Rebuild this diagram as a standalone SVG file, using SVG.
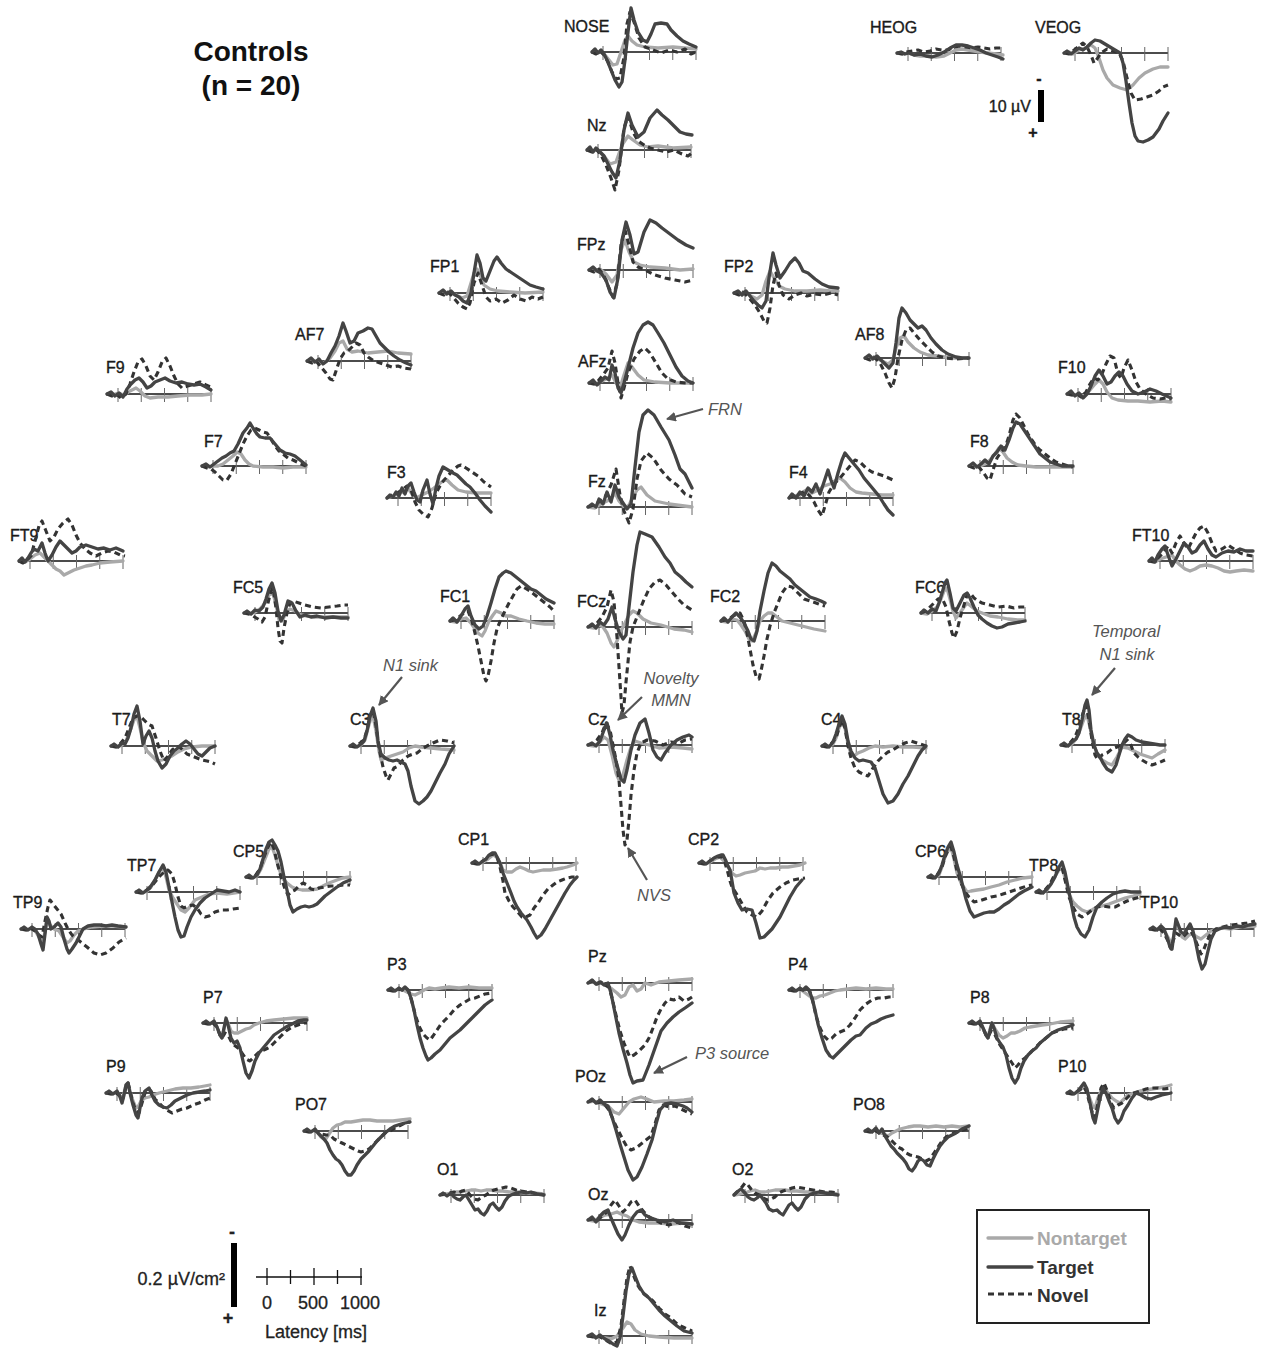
<svg xmlns="http://www.w3.org/2000/svg" width="1269" height="1349" viewBox="0 0 1269 1349">
<style>
.lbl{font-family:"Liberation Sans",Arial,sans-serif;font-size:16px;fill:#1a1a1a;stroke:#1a1a1a;stroke-width:0.35}
.nt{fill:none;stroke:#a9a9a9;stroke-width:3.3;stroke-linejoin:round;stroke-linecap:round}
.tg{fill:none;stroke:#444;stroke-width:3.3;stroke-linejoin:round;stroke-linecap:round}
.nv{fill:none;stroke:#333;stroke-width:3.1;stroke-dasharray:6 4;stroke-linejoin:round}
.ann{font-family:"Liberation Sans",Arial,sans-serif;font-size:16.5px;font-style:italic;fill:#555}
.big{font-family:"Liberation Sans",Arial,sans-serif;font-size:28px;font-weight:bold;fill:#111}
.sc{font-family:"Liberation Sans",Arial,sans-serif;font-size:18px;fill:#222;stroke:#222;stroke-width:0.3}
.leg{font-family:"Liberation Sans",Arial,sans-serif;font-size:19px;font-weight:bold}
.arr{stroke:#555;stroke-width:2.2;fill:none}
</style>
<defs>
<g id="ax"><path d="M-11 0H93" stroke="#111" stroke-width="1.3"/><path d="M0 -6V8M23.25 -6V8M46.5 -6V8M69.75 -6V8M93 -6V8" stroke="#666" stroke-width="1"/></g>
<marker id="ah" viewBox="0 0 10 10" refX="9" refY="5" markerWidth="4.5" markerHeight="4.5" orient="auto"><path d="M0 0L10 5L0 10z" fill="#555"/></marker>
</defs>
<rect width="1269" height="1349" fill="#fff"/>
<text class="big" x="251" y="61" text-anchor="middle">Controls</text>
<text class="big" x="251" y="95" text-anchor="middle">(n = 20)</text>

<g id="NOSE" transform="translate(603 52)"><use href="#ax"/><text class="lbl" x="-39" y="-20">NOSE</text>
<polyline class="nt" points="-11,0 -6,1 -2,0 2,3 6,8 10,13 14,12 18,0 22,-12 25,-16 29,-11 34,-7 42,-5 55,-4 70,-5 93,-3"/>
<polyline class="nv" points="-11,0 -7,2 -3,-1 1,3 5,10 9,20 13,27 17,26 21,5 24,-28 27,-40 31,-30 36,-14 42,-5 50,-2 58,1 66,-2 74,0 82,-3 88,2 93,0"/>
<polyline class="tg" points="-11,0 -8,-3 -5,1 -2,-2 1,2 4,8 8,18 12,28 16,35 19,30 22,8 25,-20 28,-44 31,-32 35,-20 40,-12 44,-10 48,-18 52,-28 58,-29 64,-28 68,-22 74,-16 80,-11 86,-8 93,-5"/></g>

<g id="Nz" transform="translate(598 150)"><use href="#ax"/><text class="lbl" x="-11" y="-19">Nz</text>
<polyline class="nt" points="-11,0 -5,1 0,0 6,6 12,14 18,12 24,-5 30,-14 35,-10 42,-5 50,-3 60,-4 75,-2 93,-3"/>
<polyline class="nv" points="-11,0 -6,2 -2,-1 3,5 8,15 13,28 17,40 21,20 26,-22 30,-34 35,-18 40,-9 46,-5 52,-2 60,0 68,2 76,0 84,4 90,6 94,3"/>
<polyline class="tg" points="-11,0 -8,-3 -5,2 -2,-2 2,2 6,6 10,14 14,22 18,28 22,10 26,-20 30,-37 34,-25 40,-13 46,-18 52,-32 59,-40 64,-35 70,-30 76,-24 82,-18 88,-16 94,-15"/></g>

<g id="FPz" transform="translate(600 270)"><use href="#ax"/><text class="lbl" x="-23" y="-20">FPz</text>
<polyline class="nt" points="-11,0 -5,1 0,-1 6,4 12,12 17,5 21,-20 25,-30 29,-18 34,-8 40,-5 50,-3 65,-2 80,0 93,-1"/>
<polyline class="nv" points="-11,0 -6,2 -1,-1 4,6 9,18 13,27 17,14 21,-25 25,-40 29,-25 33,-8 38,-3 45,0 55,5 65,8 75,10 85,12 93,10"/>
<polyline class="tg" points="-11,0 -7,-3 -3,1 1,3 6,10 10,22 14,28 18,8 22,-30 26,-48 30,-35 34,-16 38,-18 44,-38 50,-50 56,-47 62,-42 70,-36 78,-30 86,-25 93,-22"/></g>

<g id="AFz" transform="translate(600 383)"><use href="#ax"/><text class="lbl" x="-22" y="-16">AFz</text>
<polyline class="nt" points="-11,0 -5,1 0,-1 6,-4 12,-8 16,0 20,5 24,-8 28,-20 32,-16 38,-8 44,-3 55,-1 70,0 93,0"/>
<polyline class="nv" points="-11,0 -6,1 -2,-2 3,-8 8,-15 12,-32 15,-20 18,0 21,15 24,5 28,-10 34,-24 40,-32 45,-35 50,-30 56,-20 62,-10 68,-4 76,-1 85,0 93,0"/>
<polyline class="tg" points="-11,0 -7,-3 -3,2 1,-2 5,-6 9,-3 12,-18 15,-10 18,5 21,10 24,0 28,-15 33,-35 38,-50 43,-58 48,-61 53,-58 58,-50 64,-40 70,-28 76,-16 82,-7 88,-2 93,0"/></g>

<g id="Fz" transform="translate(599 507)"><use href="#ax"/><text class="lbl" x="-11" y="-20">Fz</text>
<polyline class="nt" points="-11,0 -4,1 0,-2 6,-5 12,-8 16,-14 20,-6 26,1 30,-2 34,-10 38,-17 42,-20 48,-12 56,-6 70,-3 93,0"/>
<polyline class="nv" points="-11,0 -5,-2 0,-5 6,-10 12,-22 17,-38 21,-12 25,4 30,16 34,2 38,-28 42,-46 48,-54 54,-49 62,-37 70,-28 78,-22 86,-13 93,-10"/>
<polyline class="tg" points="-11,0 -7,-3 -3,0 0,-8 4,-3 8,-15 12,-5 16,-22 20,-10 24,-4 28,2 32,-3 36,-40 40,-75 44,-92 49,-97 55,-92 62,-80 70,-67 76,-52 81,-38 86,-33 93,-19"/></g>

<g id="FCz" transform="translate(599 627)"><use href="#ax"/><text class="lbl" x="-22" y="-20">FCz</text>
<polyline class="nt" points="-11,0 -5,1 0,-2 4,0 8,6 12,16 15,20 18,14 22,4 26,-4 30,-12 34,-16 38,-14 44,-8 52,-4 62,-2 75,2 85,3 93,5"/>
<polyline class="nv" points="-11,0 -6,-2 -2,-4 3,-10 8,-20 12,-37 15,-25 18,10 20,40 22,70 23,86 25,78 27,55 29,35 31,15 34,0 38,-10 44,-25 50,-38 56,-45 61,-47 67,-42 73,-35 79,-28 85,-22 93,-17"/>
<polyline class="tg" points="-11,0 -7,-3 -3,1 1,-5 5,-2 9,-8 13,-20 16,-8 20,5 24,12 27,8 30,-20 34,-55 38,-82 41,-95 46,-93 53,-90 60,-80 66,-70 71,-64 76,-55 82,-50 87,-45 93,-40"/></g>

<g id="Cz" transform="translate(599 745)"><use href="#ax"/><text class="lbl" x="-11" y="-20">Cz</text>
<polyline class="nt" points="-11,0 -5,1 0,-2 5,-8 9,-5 13,10 17,28 20,35 24,30 28,15 32,2 36,-4 42,-2 50,0 60,3 72,2 84,3 93,4"/>
<polyline class="nv" points="-11,0 -6,-1 -2,-5 3,-12 7,-22 11,-15 14,0 17,15 20,35 22,60 24,85 26,100 28,95 30,75 32,50 35,25 38,8 42,-2 48,-5 56,-4 64,0 72,-3 80,-2 86,-5 93,-6"/>
<polyline class="tg" points="-11,0 -7,-2 -3,1 1,-4 5,-15 8,-22 11,-10 14,5 18,20 22,34 25,37 28,25 32,5 36,-10 41,-22 46,-26 50,-12 54,5 58,12 62,15 66,8 72,0 78,-5 84,-8 90,-10 93,-8"/></g>

<g id="Pz" transform="translate(599 983)"><use href="#ax"/><text class="lbl" x="-11" y="-21">Pz</text>
<polyline class="nt" points="-11,0 -6,-1 -2,1 3,0 8,3 13,6 18,10 22,14 26,12 30,4 34,2 38,8 42,6 46,0 52,2 60,-1 70,-2 80,-3 93,-4"/>
<polyline class="nv" points="-11,0 -6,-2 -2,1 2,-1 6,2 10,4 13,15 17,32 21,48 25,60 29,70 31,74 35,72 40,68 46,62 50,55 54,45 58,34 62,26 66,20 70,16 75,17 80,14 85,18 90,16 93,14"/>
<polyline class="tg" points="-11,0 -7,-3 -3,1 1,-1 5,2 9,0 12,10 16,30 20,50 24,66 28,80 31,92 34,100 38,98 44,97 50,82 56,65 62,48 68,40 74,34 80,29 86,25 93,20"/></g>

<g id="POz" transform="translate(599 1102)"><use href="#ax"/><text class="lbl" x="-24" y="-20">POz</text>
<polyline class="nt" points="-11,0 -5,-1 0,1 5,3 10,5 15,10 20,12 25,6 30,0 35,-3 42,-5 48,-3 55,0 65,-1 75,-1 85,-2 93,-3"/>
<polyline class="nv" points="-11,0 -6,-2 -2,1 2,0 6,3 10,8 13,15 16,22 20,30 24,38 28,45 32,48 37,46 42,42 47,38 52,34 56,22 60,8 64,3 70,5 76,4 82,7 88,10 93,12"/>
<polyline class="tg" points="-11,0 -7,-3 -3,1 1,-2 5,2 9,4 13,15 17,28 21,42 25,55 29,68 34,78 38,75 43,65 48,52 53,38 57,22 61,8 66,2 72,1 78,2 84,4 88,6 93,10"/></g>

<g id="Oz" transform="translate(599 1220)"><use href="#ax"/><text class="lbl" x="-11" y="-20">Oz</text>
<polyline class="nt" points="-11,0 -5,1 0,-2 6,-5 12,-6 18,-8 22,-6 28,-4 34,0 40,2 50,3 60,3 72,4 84,3 93,4"/>
<polyline class="nv" points="-11,0 -6,-1 -2,1 3,-4 8,-8 12,-15 16,-20 20,-14 24,-8 28,-12 32,-18 36,-20 40,-14 45,-8 50,-3 56,0 62,3 70,5 78,2 86,6 93,8"/>
<polyline class="tg" points="-11,0 -7,-3 -3,2 1,-4 5,-8 9,-10 12,-2 15,5 19,14 23,20 26,15 30,5 34,-3 38,-8 42,-10 46,-5 52,-2 58,0 66,2 74,0 82,3 93,4"/></g>

<g id="Iz" transform="translate(599 1336)"><use href="#ax"/><text class="lbl" x="-5" y="-20">Iz</text>
<polyline class="nt" points="-11,0 -5,0 0,1 6,2 12,3 18,0 24,-8 28,-14 32,-12 36,-6 42,-2 50,0 60,1 75,2 93,2"/>
<polyline class="nv" points="-11,0 -6,1 -2,-1 3,2 8,5 13,8 18,6 22,-10 25,-35 28,-58 31,-70 34,-62 38,-52 43,-44 48,-40 54,-35 60,-28 66,-22 72,-18 78,-12 86,-8 93,-5"/>
<polyline class="tg" points="-11,0 -7,-2 -3,2 1,-1 6,3 10,5 14,8 18,10 21,2 24,-20 27,-45 30,-62 33,-68 36,-60 40,-50 45,-42 50,-38 55,-32 60,-26 66,-20 72,-15 78,-10 85,-5 93,-3"/></g>

<g id="HEOG" transform="translate(908 53)"><use href="#ax"/><text class="lbl" x="-38" y="-20">HEOG</text>
<polyline class="nt" points="-11,0 -5,1 0,0 6,2 12,3 20,3 28,4 36,3 42,0 48,-3 54,-4 60,-3 66,-2 72,-1 80,0 88,1 95,2"/>
<polyline class="nv" points="-11,0 -6,1 -2,-1 4,-2 10,-3 16,-1 22,-2 28,-4 34,-3 40,-3 46,-6 52,-7 58,-6 64,-5 70,-6 76,-5 82,-4 88,-5 95,-5"/>
<polyline class="tg" points="-11,0 -7,-1 -3,1 1,0 6,2 12,1 18,3 24,4 30,2 36,-1 42,-5 48,-8 54,-8 60,-7 66,-5 72,-3 78,0 84,2 90,4 95,6"/></g>

<g id="VEOG" transform="translate(1075 53)"><use href="#ax"/><text class="lbl" x="-40" y="-20">VEOG</text>
<polyline class="nt" points="-11,0 -6,-1 -2,1 4,-3 10,-5 16,-8 20,-5 24,5 28,17 32,25 38,32 45,35 52,37 58,32 64,25 70,20 78,16 85,14 93,14"/>
<polyline class="nv" points="-11,0 -6,1 -2,-2 3,-6 8,-10 12,-6 16,2 19,10 22,6 26,0 32,-4 38,-2 44,0 48,8 52,25 56,40 60,47 66,46 72,44 78,42 84,38 88,34 93,32"/>
<polyline class="tg" points="-11,0 -8,-2 -4,1 0,-2 4,-5 8,-3 12,-6 16,-10 20,-13 25,-12 30,-9 35,-6 40,-3 45,0 48,10 51,28 54,50 57,70 60,83 63,88 68,89 73,87 78,84 84,76 88,68 93,60"/></g>

<g id="FP1" transform="translate(450 293)"><use href="#ax"/><text class="lbl" x="-20" y="-21">FP1</text>
<polyline class="nt" points="-11,0 -5,1 0,-1 6,2 12,5 17,3 21,-10 24,-20 27,-24 30,-18 34,-8 40,-4 48,-2 60,-1 75,0 93,-1"/>
<polyline class="nv" points="-11,0 -6,2 -2,-1 3,4 8,10 13,14 17,16 20,10 24,-10 28,-20 32,-8 36,4 40,8 46,6 52,10 58,7 64,2 70,6 76,8 82,4 88,6 93,4"/>
<polyline class="tg" points="-11,0 -7,-3 -3,1 1,-2 5,2 9,4 13,8 17,10 21,0 24,-20 27,-38 30,-30 33,-15 36,-12 40,-22 44,-32 47,-36 51,-30 56,-24 62,-20 68,-16 74,-12 80,-8 86,-6 93,-4"/></g>

<g id="FP2" transform="translate(745 293)"><use href="#ax"/><text class="lbl" x="-21" y="-21">FP2</text>
<polyline class="nt" points="-11,0 -5,1 0,-1 6,3 12,6 17,2 21,-12 25,-22 29,-15 34,-7 40,-4 50,-2 62,-2 75,-3 85,-2 93,-2"/>
<polyline class="nv" points="-11,0 -6,2 -2,-1 4,5 10,12 15,20 19,28 22,30 25,15 28,-8 31,-20 34,-8 38,2 44,6 50,2 56,0 62,3 70,1 78,2 86,0 93,2"/>
<polyline class="tg" points="-11,0 -7,-2 -3,2 1,-2 5,3 9,8 13,12 17,15 21,8 24,-15 28,-40 31,-28 35,-15 40,-22 45,-30 50,-35 54,-30 58,-22 63,-20 70,-14 77,-9 84,-6 93,-5"/></g>

<g id="AF7" transform="translate(318 361)"><use href="#ax"/><text class="lbl" x="-23" y="-21">AF7</text>
<polyline class="nt" points="-11,0 -5,1 0,0 6,2 12,-3 17,-10 21,-18 25,-20 29,-12 34,-9 40,-10 50,-8 60,-9 70,-10 80,-8 93,-7"/>
<polyline class="nv" points="-11,0 -6,2 -2,0 3,6 8,12 12,18 15,19 18,10 22,-2 26,-8 30,-10 34,-14 38,-18 42,-16 46,-8 50,-4 56,0 62,2 68,4 74,6 80,5 86,7 93,8"/>
<polyline class="tg" points="-11,0 -7,-3 -3,1 1,-2 5,3 9,0 13,-8 17,-15 21,-25 25,-38 28,-30 32,-18 36,-20 40,-28 45,-30 50,-33 54,-32 58,-25 62,-18 66,-14 71,-9 76,-5 82,-1 88,2 93,4"/></g>

<g id="AF8" transform="translate(876 358)"><use href="#ax"/><text class="lbl" x="-21" y="-18">AF8</text>
<polyline class="nt" points="-11,0 -5,1 0,0 6,3 12,6 17,2 20,-10 24,-20 28,-22 32,-16 38,-10 44,-6 52,-3 62,-2 75,0 93,0"/>
<polyline class="nv" points="-11,0 -6,2 -2,-1 4,5 9,15 13,25 16,30 19,20 22,0 26,-18 30,-28 34,-30 38,-25 44,-18 50,-12 56,-6 62,-2 70,0 80,1 93,0"/>
<polyline class="tg" points="-11,0 -7,-3 -3,1 1,-2 5,2 9,6 13,10 17,5 20,-15 23,-40 26,-50 30,-45 34,-38 38,-34 42,-30 46,-32 50,-28 55,-20 60,-14 66,-8 72,-4 80,-1 86,0 93,0"/></g>

<g id="F9" transform="translate(118 394)"><use href="#ax"/><text class="lbl" x="-12" y="-21">F9</text>
<polyline class="nt" points="-11,0 -5,1 0,-1 6,1 12,-3 18,-6 22,-3 27,2 32,4 40,3 50,3 60,2 72,1 84,1 93,0"/>
<polyline class="nv" points="-11,0 -6,2 -2,0 3,4 8,0 12,-10 16,-22 20,-32 24,-35 28,-28 32,-18 36,-14 40,-22 44,-32 48,-36 52,-28 56,-18 60,-10 64,-6 70,-8 76,-10 82,-12 88,-9 93,-7"/>
<polyline class="tg" points="-11,0 -7,-2 -3,2 1,-1 5,3 9,-5 13,-10 17,-14 21,-16 25,-12 29,-6 33,-8 37,-12 42,-14 47,-16 52,-13 58,-11 64,-12 70,-10 76,-9 82,-10 88,-7 93,-4"/></g>

<g id="F10" transform="translate(1078 394)"><use href="#ax"/><text class="lbl" x="-20" y="-21">F10</text>
<polyline class="nt" points="-11,0 -5,1 0,0 6,2 12,-4 17,-10 21,-14 25,-10 29,-2 34,4 40,6 50,7 60,7 72,8 84,7 93,8"/>
<polyline class="nv" points="-11,0 -6,1 -2,-1 3,3 8,-2 12,-10 16,-16 20,-14 24,-20 28,-30 32,-38 36,-36 40,-20 43,-16 46,-26 50,-34 54,-24 58,-12 62,-5 68,0 75,4 82,5 88,4 93,5"/>
<polyline class="tg" points="-11,0 -7,-3 -3,2 1,-1 5,4 9,0 13,-8 17,-18 21,-24 25,-18 29,-10 33,-12 37,-18 41,-22 45,-18 49,-10 54,-3 60,0 66,-2 72,-5 78,-3 84,0 93,4"/></g>

<g id="F7" transform="translate(213 466)"><use href="#ax"/><text class="lbl" x="-9" y="-19">F7</text>
<polyline class="nt" points="-11,0 -5,1 0,0 5,0 10,-2 15,-6 20,-10 24,-14 28,-12 32,-6 36,-2 40,0 50,1 60,1 70,2 80,1 93,1"/>
<polyline class="nv" points="-11,0 -6,2 -2,3 2,6 6,10 10,14 14,14 18,8 22,-2 26,-12 30,-22 34,-30 38,-36 42,-38 46,-36 50,-34 54,-33 58,-27 62,-20 66,-15 70,-12 75,-8 80,-6 86,-3 93,0"/>
<polyline class="tg" points="-11,0 -7,-2 -3,1 1,-2 5,-5 9,-8 13,-10 17,-13 21,-15 25,-22 30,-33 34,-38 37,-43 40,-38 44,-32 47,-29 52,-28 57,-28 62,-22 67,-16 72,-13 77,-12 82,-10 87,-6 93,-1"/></g>

<g id="F8" transform="translate(980 466)"><use href="#ax"/><text class="lbl" x="-10" y="-19">F8</text>
<polyline class="nt" points="-11,0 -5,1 0,0 5,-2 10,-6 15,-12 19,-18 23,-14 27,-8 32,-4 38,-1 46,0 56,1 70,1 93,1"/>
<polyline class="nv" points="-11,0 -6,2 -2,0 3,6 7,12 10,14 13,4 17,-8 21,-14 25,-18 29,-30 33,-46 36,-52 40,-48 44,-40 48,-32 52,-26 56,-20 60,-16 65,-12 70,-8 76,-4 82,-2 88,0 93,1"/>
<polyline class="tg" points="-11,0 -7,-3 -3,1 1,-2 5,-6 9,-2 13,-10 17,-14 21,-20 25,-16 29,-26 33,-38 36,-44 40,-42 44,-36 48,-30 52,-24 56,-18 60,-12 65,-8 70,-4 76,-2 82,0 88,0 93,0"/></g>

<g id="F3" transform="translate(398 498)"><use href="#ax"/><text class="lbl" x="-11" y="-20">F3</text>
<polyline class="nt" points="-11,0 -5,-2 0,-4 5,-6 10,-10 14,-4 18,0 24,-3 30,-6 36,-10 41,-14 45,-17 49,-18 54,-13 60,-8 68,-6 78,-5 93,-5"/>
<polyline class="nv" points="-11,0 -6,-3 -1,-5 4,-8 9,-12 13,-8 17,4 21,12 25,16 30,19 34,10 38,-5 42,-12 46,-18 50,-22 55,-28 60,-32 63,-33 68,-30 74,-26 80,-22 86,-16 93,-11"/>
<polyline class="tg" points="-11,0 -8,-3 -5,-1 -2,-6 1,-2 4,-10 7,-4 10,-12 13,-15 16,-6 19,2 22,4 25,-8 29,-18 32,-4 35,6 38,-10 41,-22 45,-31 50,-28 55,-25 59,-23 64,-18 68,-14 72,-11 77,-5 82,2 87,8 93,14"/></g>

<g id="F4" transform="translate(800 498)"><use href="#ax"/><text class="lbl" x="-11" y="-20">F4</text>
<polyline class="nt" points="-11,0 -5,-2 0,-4 6,-8 12,-5 18,-8 24,-12 30,-14 36,-18 40,-20 45,-16 50,-10 56,-6 62,-5 72,-4 82,-3 93,-3"/>
<polyline class="nv" points="-11,0 -6,-2 -1,-4 4,-6 9,-3 14,4 18,12 22,18 25,8 29,-6 34,-14 40,-20 45,-26 50,-32 55,-38 60,-36 66,-30 72,-26 78,-24 84,-22 93,-18"/>
<polyline class="tg" points="-11,0 -8,-4 -4,0 0,-6 4,-2 8,-10 12,-6 16,-14 20,-4 24,-16 28,-28 31,-18 34,-10 38,-25 42,-38 45,-45 49,-40 54,-34 59,-28 64,-20 69,-14 74,-8 79,-2 84,6 88,12 93,17"/></g>

<g id="FT9" transform="translate(30 561)"><use href="#ax"/><text class="lbl" x="-20" y="-20">FT9</text>
<polyline class="nt" points="-11,0 -5,1 0,-2 5,-6 10,-8 14,-4 18,0 22,4 26,8 30,10 34,14 38,12 44,9 50,7 56,5 62,4 70,2 80,1 93,0"/>
<polyline class="nv" points="-11,0 -7,2 -3,-1 1,-5 5,-20 9,-35 12,-40 16,-30 20,-20 24,-24 28,-32 33,-38 38,-42 42,-36 46,-26 50,-18 55,-12 60,-8 66,-5 72,-8 78,-10 84,-9 90,-6 95,-5"/>
<polyline class="tg" points="-11,0 -8,-3 -5,1 -2,-3 1,-8 4,-12 8,-10 12,-18 15,-8 18,0 22,-6 26,-14 30,-20 34,-16 38,-12 42,-8 46,-10 50,-14 56,-16 62,-14 68,-12 74,-13 80,-11 86,-13 93,-10"/></g>

<g id="FT10" transform="translate(1160 561)"><use href="#ax"/><text class="lbl" x="-28" y="-20">FT10</text>
<polyline class="nt" points="-11,0 -5,1 0,-2 6,-4 12,-6 16,0 20,4 25,8 30,10 35,8 40,5 46,4 52,5 58,7 64,10 70,11 76,10 84,9 93,10"/>
<polyline class="nv" points="-11,0 -6,1 -2,-3 3,-8 8,-15 12,-8 16,-18 20,-25 24,-18 28,-12 32,-20 36,-28 40,-33 44,-35 48,-28 52,-18 56,-10 62,-12 68,-16 74,-12 80,-8 86,-6 93,-5"/>
<polyline class="tg" points="-11,0 -8,-3 -5,1 -2,-6 2,-12 5,-15 8,-6 12,5 16,-2 20,-10 24,-18 28,-14 32,-8 36,-10 40,-16 44,-20 48,-12 52,-6 56,-4 62,-8 68,-10 74,-9 80,-12 86,-10 93,-10"/></g>

<g id="FC5" transform="translate(255 613)"><use href="#ax"/><text class="lbl" x="-22" y="-20">FC5</text>
<polyline class="nt" points="-11,0 -5,1 0,-1 5,-4 10,-10 14,-18 18,-20 21,-8 24,6 27,8 31,0 35,-4 40,-2 46,2 52,3 60,4 70,4 80,4 93,4"/>
<polyline class="nv" points="-11,0 -6,1 -2,3 3,6 7,9 10,4 13,-10 16,-22 18,-25 21,-5 23,15 25,28 27,30 29,15 32,0 35,-10 38,-12 44,-10 50,-8 58,-6 66,-5 74,-6 82,-7 88,-8 93,-8"/>
<polyline class="tg" points="-11,0 -8,-2 -4,1 0,-3 4,-2 8,-6 11,-14 14,-24 17,-30 20,-20 23,-2 26,8 29,2 33,-12 37,-10 41,-2 45,4 50,2 56,4 62,3 70,5 78,4 86,5 93,5"/></g>

<g id="FC6" transform="translate(932 613)"><use href="#ax"/><text class="lbl" x="-17" y="-20">FC6</text>
<polyline class="nt" points="-11,0 -5,1 0,-2 5,-6 9,-14 12,-22 15,-25 18,-14 21,-2 24,5 28,0 32,-6 35,-10 40,-6 45,-2 50,0 58,3 66,4 76,6 86,7 93,7"/>
<polyline class="nv" points="-11,0 -6,-2 -2,-6 2,-10 6,-14 10,-15 14,-6 17,8 20,20 22,25 25,18 28,5 32,-8 35,-18 38,-20 42,-15 46,-12 50,-10 58,-8 66,-6 74,-7 82,-5 88,-6 93,-6"/>
<polyline class="tg" points="-11,0 -8,-3 -4,0 0,-4 4,-2 7,-10 10,-20 13,-30 15,-33 18,-20 21,-5 24,-2 28,-10 32,-18 35,-20 38,-15 42,-6 46,2 50,6 55,10 60,13 65,15 70,14 76,11 82,10 88,9 93,8"/></g>

<g id="FC1" transform="translate(461 621)"><use href="#ax"/><text class="lbl" x="-21" y="-19">FC1</text>
<polyline class="nt" points="-11,0 -5,1 0,-2 5,-3 10,2 14,8 18,13 21,15 24,10 28,0 32,-6 35,-10 40,-8 45,-5 50,-5 58,-2 66,0 75,2 84,3 93,3"/>
<polyline class="nv" points="-11,0 -6,-1 -2,-4 3,-8 7,-10 11,0 14,12 17,25 20,40 23,55 25,60 27,55 30,40 33,22 36,8 40,-2 44,-10 48,-18 52,-25 56,-32 60,-35 64,-33 69,-30 74,-26 79,-22 84,-18 89,-14 93,-10"/>
<polyline class="tg" points="-11,0 -8,-3 -4,1 0,-5 4,-12 7,-15 10,-5 14,4 18,8 22,5 26,-5 30,-18 34,-32 38,-44 42,-48 45,-50 50,-48 55,-44 60,-40 65,-36 70,-32 75,-30 80,-26 85,-22 89,-20 93,-18"/></g>

<g id="FC2" transform="translate(732 621)"><use href="#ax"/><text class="lbl" x="-22" y="-19">FC2</text>
<polyline class="nt" points="-11,0 -5,1 0,-2 5,-1 9,4 13,10 17,18 20,20 24,12 28,0 32,-5 36,-8 40,-8 45,-4 50,0 58,2 66,4 74,6 82,8 93,10"/>
<polyline class="nv" points="-11,0 -6,-1 -2,-3 3,-6 8,-8 12,0 15,12 18,28 21,44 24,55 27,58 29,50 32,35 35,18 38,5 42,-8 46,-18 50,-28 55,-35 60,-34 66,-28 72,-22 78,-20 84,-18 89,-16 93,-15"/>
<polyline class="tg" points="-11,0 -8,-3 -4,1 0,-4 4,-8 8,-4 12,2 16,10 19,18 22,20 25,10 28,-10 32,-30 36,-48 40,-58 44,-55 48,-50 53,-46 58,-42 63,-36 68,-32 73,-28 78,-24 84,-22 89,-20 93,-18"/></g>

<g id="T7" transform="translate(122 746)"><use href="#ax"/><text class="lbl" x="-10" y="-21">T7</text>
<polyline class="nt" points="-11,0 -5,1 0,-1 4,-5 8,-15 12,-26 15,-30 18,-18 21,-4 25,5 30,10 35,15 40,14 45,12 50,10 56,6 62,3 70,1 80,0 93,0"/>
<polyline class="nv" points="-11,0 -6,1 -2,-2 3,-8 7,-18 11,-28 15,-30 18,-30 22,-26 26,-22 30,-20 34,-8 38,5 42,15 46,10 50,4 55,0 60,3 65,8 70,10 75,12 80,14 85,15 89,16 93,18"/>
<polyline class="tg" points="-11,0 -8,-2 -4,1 0,-3 3,-2 6,-8 9,-18 12,-32 15,-40 18,-25 21,-2 24,-10 27,-15 30,-8 33,5 36,15 40,22 44,18 48,10 52,5 56,2 60,-2 64,-5 68,-2 72,3 76,8 80,10 84,6 88,2 93,0"/></g>

<g id="T8" transform="translate(1072 745)"><use href="#ax"/><text class="lbl" x="-10" y="-20">T8</text>
<polyline class="nt" points="-11,0 -5,1 0,-1 4,-6 8,-15 12,-26 15,-30 18,-18 21,-2 25,8 30,15 35,18 40,20 45,12 50,2 56,3 62,6 68,9 74,11 80,13 86,9 93,5"/>
<polyline class="nv" points="-11,0 -6,1 -2,-2 3,-8 7,-18 11,-32 14,-40 17,-25 20,-5 23,10 26,15 30,10 35,8 40,4 45,2 50,0 55,-5 58,-2 62,8 66,12 70,15 75,18 80,20 86,18 93,15"/>
<polyline class="tg" points="-11,0 -8,-2 -4,1 0,-3 4,-6 7,-12 10,-25 13,-40 15,-45 17,-35 19,-15 22,0 25,8 28,12 31,18 35,24 40,27 44,20 47,10 50,0 53,-6 56,-10 60,-8 64,-5 70,-3 76,-2 82,-1 88,0 93,0"/></g>

<g id="C3" transform="translate(361 746)"><use href="#ax"/><text class="lbl" x="-11" y="-21">C3</text>
<polyline class="nt" points="-11,0 -5,1 0,-1 4,-6 7,-18 10,-28 12,-30 15,-15 18,5 20,14 24,12 30,10 36,8 42,6 48,2 54,0 60,1 70,2 80,3 93,4"/>
<polyline class="nv" points="-11,0 -6,1 -2,-2 3,-6 6,-16 9,-30 12,-36 15,-20 18,2 22,21 25,30 27,34 30,28 33,22 37,20 42,14 47,10 52,8 56,7 61,3 66,0 72,-3 79,-6 86,-5 93,-3"/>
<polyline class="tg" points="-11,0 -8,-2 -4,1 0,-2 3,-5 6,-15 9,-30 12,-38 15,-25 17,-5 20,8 24,12 28,14 32,15 36,14 40,16 44,18 47,25 50,40 54,55 58,58 62,55 66,51 70,45 75,35 79,27 84,18 88,8 93,0"/></g>

<g id="C4" transform="translate(833 746)"><use href="#ax"/><text class="lbl" x="-12" y="-21">C4</text>
<polyline class="nt" points="-11,0 -5,1 0,-2 3,-8 6,-18 9,-24 12,-18 15,-2 18,8 21,10 25,7 30,5 36,2 42,0 50,1 60,0 70,1 80,1 93,2"/>
<polyline class="nv" points="-11,0 -6,1 -2,-2 3,-8 6,-18 9,-26 12,-18 15,0 18,12 22,22 26,26 30,28 35,30 40,22 45,15 50,10 55,6 60,4 66,0 72,-3 78,-5 84,-3 93,0"/>
<polyline class="tg" points="-11,0 -8,-2 -4,1 0,-4 3,-12 6,-22 9,-30 12,-22 15,-5 18,5 22,12 26,15 30,14 34,15 38,16 42,22 46,35 50,48 55,57 60,55 65,48 70,38 75,30 80,20 85,10 89,4 93,0"/></g>

<g id="TP7" transform="translate(147 892)"><use href="#ax"/><text class="lbl" x="-20" y="-21">TP7</text>
<polyline class="nt" points="-11,0 -5,1 0,-1 4,-5 8,-12 12,-20 16,-25 19,-15 22,-2 26,6 30,12 34,18 38,20 42,16 48,8 55,5 62,2 70,1 80,2 93,0"/>
<polyline class="nv" points="-11,0 -6,1 -2,-1 3,-4 8,-10 13,-16 17,-20 21,-22 25,-18 28,-8 31,5 34,14 37,16 41,14 46,13 50,16 54,22 58,25 62,24 68,20 74,18 80,18 86,17 93,16"/>
<polyline class="tg" points="-11,0 -8,-2 -4,1 0,-2 4,-6 8,-12 12,-20 16,-27 19,-20 22,-5 25,10 28,25 31,38 34,45 37,44 40,35 44,25 48,18 53,11 58,6 64,2 70,-2 76,-1 82,0 88,-2 93,0"/></g>

<g id="CP5" transform="translate(257 877)"><use href="#ax"/><text class="lbl" x="-24" y="-20">CP5</text>
<polyline class="nt" points="-11,0 -5,1 0,-1 4,-8 8,-18 12,-28 15,-30 18,-22 22,-8 26,2 30,6 35,10 40,12 45,13 52,13 60,12 66,9 72,6 80,3 86,1 93,0"/>
<polyline class="nv" points="-11,0 -6,1 -2,-1 3,-8 7,-20 11,-30 14,-35 17,-28 20,-15 24,0 28,12 31,18 34,15 38,13 42,9 46,6 50,8 54,12 58,13 62,11 68,10 74,9 80,9 86,8 93,8"/>
<polyline class="tg" points="-11,0 -8,-2 -4,1 0,-2 3,-8 6,-18 9,-28 12,-35 15,-37 18,-32 21,-26 24,-15 27,0 30,13 33,28 36,35 40,32 44,30 48,29 52,30 56,29 60,27 64,23 68,19 72,16 76,13 80,10 86,6 93,3"/></g>

<g id="TP9" transform="translate(32 929)"><use href="#ax"/><text class="lbl" x="-19" y="-21">TP9</text>
<polyline class="nt" points="-11,0 -5,1 0,-1 4,3 8,10 11,15 13,2 15,-8 18,-4 22,0 27,2 31,8 35,14 38,12 42,6 46,2 52,0 60,-2 70,-3 80,-3 94,-2"/>
<polyline class="nv" points="-11,0 -6,1 -2,-1 3,2 7,6 10,8 13,-8 16,-22 18,-29 21,-25 25,-20 29,-15 33,-6 36,0 40,6 45,10 50,14 55,18 62,24 68,26 74,24 81,19 87,13 94,9"/>
<polyline class="tg" points="-11,0 -8,-2 -4,1 0,-2 3,0 6,5 9,15 11,21 13,5 15,-12 17,-8 19,0 22,-2 26,-6 29,-2 32,10 35,20 37,24 40,20 44,14 48,6 51,0 56,-3 62,-4 68,-4 74,-3 80,-4 86,-3 94,-2"/></g>

<g id="TP8" transform="translate(1047 892)"><use href="#ax"/><text class="lbl" x="-18" y="-21">TP8</text>
<polyline class="nt" points="-11,0 -5,1 0,-2 4,-8 8,-16 12,-22 15,-25 18,-14 22,2 26,10 30,14 35,18 40,20 45,18 50,15 55,14 62,12 70,9 78,6 86,4 93,2"/>
<polyline class="nv" points="-11,0 -6,1 -2,-2 3,-8 7,-16 11,-22 15,-25 18,-12 22,5 26,15 30,22 35,25 40,22 45,18 50,15 56,14 62,15 68,15 74,12 80,9 86,7 93,5"/>
<polyline class="tg" points="-11,0 -8,-2 -4,1 0,-3 4,-8 8,-15 12,-25 15,-30 18,-20 21,-5 24,10 27,25 30,35 34,42 38,45 42,38 46,25 50,15 55,10 60,6 66,2 72,0 78,-1 84,0 93,0"/></g>

<g id="CP6" transform="translate(939 877)"><use href="#ax"/><text class="lbl" x="-24" y="-20">CP6</text>
<polyline class="nt" points="-11,0 -5,1 0,-2 3,-10 6,-20 9,-26 12,-30 15,-18 18,-4 22,6 26,12 28,15 32,14 38,13 45,12 52,10 60,8 68,5 76,3 84,1 93,0"/>
<polyline class="nv" points="-11,0 -6,1 -2,-2 3,-10 6,-20 9,-27 12,-30 15,-20 18,-6 22,6 26,15 30,20 35,25 40,24 46,22 52,20 58,19 64,17 70,15 76,13 82,11 88,9 93,8"/>
<polyline class="tg" points="-11,0 -8,-2 -4,1 0,-4 3,-12 6,-22 9,-30 12,-35 15,-25 18,-12 21,-2 24,10 27,22 31,34 35,40 40,38 45,36 50,35 55,35 60,32 65,28 70,25 75,21 80,17 85,14 89,12 93,10"/></g>

<g id="TP10" transform="translate(1161 929)"><use href="#ax"/><text class="lbl" x="-21" y="-21">TP10</text>
<polyline class="nt" points="-11,0 -5,1 0,-1 4,3 8,10 11,15 13,5 15,-5 18,0 21,8 24,10 28,6 32,5 36,8 40,10 45,6 50,2 55,0 62,-1 70,0 80,-2 94,-3"/>
<polyline class="nv" points="-11,0 -6,1 -2,-1 3,4 7,12 10,20 12,12 15,4 18,6 22,8 26,4 30,2 34,10 38,20 40,25 43,20 46,12 50,4 55,0 62,-2 70,-4 78,-5 86,-6 94,-8"/>
<polyline class="tg" points="-11,0 -8,-2 -4,1 0,-3 3,0 6,8 9,18 11,20 13,5 15,-10 17,-5 20,3 23,5 26,0 29,-5 32,2 35,15 38,30 41,40 44,35 47,22 50,10 54,2 58,0 64,-2 70,-1 76,-3 82,-2 88,-4 94,-5"/></g>

<g id="CP1" transform="translate(483 863)"><use href="#ax"/><text class="lbl" x="-25" y="-18">CP1</text>
<polyline class="nt" points="-11,0 -5,1 0,-1 5,-4 10,-8 14,-6 17,0 20,7 24,9 29,9 33,6 37,4 42,6 46,8 50,9 55,8 60,7 67,7 74,6 80,5 84,4 90,2 94,0"/>
<polyline class="nv" points="-11,0 -6,1 -2,-1 3,-4 7,-8 11,-9 14,-6 17,4 20,18 22,30 26,38 30,44 34,48 39,54 43,54 47,52 51,45 55,40 60,32 65,26 70,22 74,19 79,17 84,15 89,14 94,14"/>
<polyline class="tg" points="-11,0 -8,-2 -4,1 0,-2 3,-4 6,-8 9,-10 12,-10 15,-4 17,0 20,10 24,20 28,30 31,38 34,44 38,50 44,57 48,64 51,70 54,75 58,72 62,66 67,57 72,48 77,39 82,30 87,22 91,17 94,14"/></g>

<g id="CP2" transform="translate(710 863)"><use href="#ax"/><text class="lbl" x="-22" y="-18">CP2</text>
<polyline class="nt" points="-11,0 -5,1 0,-1 5,-4 10,-6 14,-2 18,4 22,10 26,13 30,12 35,10 40,9 45,8 50,5 55,6 60,5 66,5 72,4 78,4 84,3 90,2 95,0"/>
<polyline class="nv" points="-11,0 -6,1 -2,-1 3,-4 8,-6 12,-6 15,0 18,10 20,18 22,24 26,30 30,37 34,44 37,49 42,52 47,54 52,48 58,37 63,30 70,24 76,20 83,17 88,16 95,15"/>
<polyline class="tg" points="-11,0 -8,-2 -4,1 0,-2 4,-5 8,-7 11,-8 13,-8 16,-2 18,3 20,7 22,18 24,30 28,40 32,47 37,46 42,47 46,60 50,75 54,74 58,70 62,66 66,60 70,54 75,44 80,34 86,24 92,17"/></g>

<g id="P3" transform="translate(399 990)"><use href="#ax"/><text class="lbl" x="-12" y="-20">P3</text>
<polyline class="nt" points="-11,0 -5,1 0,-1 4,0 8,2 12,4 16,5 20,3 25,0 30,-2 36,-1 42,-2 50,-3 60,-2 70,-3 80,-2 93,-2"/>
<polyline class="nv" points="-11,0 -6,1 -2,-1 3,0 7,-2 10,2 13,12 16,24 20,36 24,44 28,48 31,50 34,46 38,40 42,34 46,30 50,26 55,20 61,15 66,12 71,9 76,8 81,6 86,4 93,3"/>
<polyline class="tg" points="-11,0 -8,-2 -4,1 0,-2 3,0 6,-3 9,0 12,8 15,20 18,35 21,48 24,58 27,66 29,70 32,68 36,64 41,60 46,54 51,48 56,44 61,40 66,35 71,30 76,25 81,20 86,15 90,12 93,10"/></g>

<g id="P4" transform="translate(800 990)"><use href="#ax"/><text class="lbl" x="-12" y="-20">P4</text>
<polyline class="nt" points="-11,0 -5,1 0,-1 4,2 8,5 12,8 16,8 20,6 25,5 30,3 35,1 40,0 48,-1 56,-2 66,-1 76,-2 86,-1 93,-1"/>
<polyline class="nv" points="-11,0 -6,1 -2,-1 3,0 7,-2 10,2 13,12 16,26 20,38 24,46 28,50 32,48 36,44 40,42 45,40 50,35 55,28 60,20 66,14 72,10 78,8 84,8 89,7 93,7"/>
<polyline class="tg" points="-11,0 -8,-2 -4,1 0,-2 3,0 6,-3 9,0 12,8 15,20 18,34 22,48 26,60 30,66 33,68 37,64 41,60 46,55 51,50 56,46 60,45 66,38 71,34 76,32 81,29 86,27 93,25"/></g>

<g id="P7" transform="translate(214 1023)"><use href="#ax"/><text class="lbl" x="-11" y="-20">P7</text>
<polyline class="nt" points="-11,0 -5,1 0,-1 3,4 6,12 8,15 10,6 12,-3 14,0 17,8 20,10 24,10 28,8 32,6 36,5 40,2 45,0 52,-2 60,-3 70,-4 80,-5 93,-5"/>
<polyline class="nv" points="-11,0 -6,1 -2,-1 3,4 6,12 8,15 11,10 14,12 17,18 20,22 24,25 28,30 32,36 36,38 40,34 44,30 48,28 52,26 56,24 60,20 66,14 72,8 78,4 84,2 90,0 93,0"/>
<polyline class="tg" points="-11,0 -8,-2 -4,1 0,-2 3,4 6,12 8,15 10,5 12,-5 14,2 17,15 20,20 23,18 26,25 29,38 32,50 35,55 38,48 41,38 45,30 50,24 55,18 60,12 66,8 72,4 78,1 84,-2 90,-3 93,-3"/></g>

<g id="P8" transform="translate(980 1023)"><use href="#ax"/><text class="lbl" x="-10" y="-20">P8</text>
<polyline class="nt" points="-11,0 -5,1 0,-1 3,5 6,12 8,15 10,6 12,0 15,6 19,12 23,15 27,13 31,10 35,10 40,8 45,5 50,4 56,3 62,2 70,1 80,-1 93,-2"/>
<polyline class="nv" points="-11,0 -6,1 -2,-1 3,5 6,12 8,14 11,8 14,10 17,16 20,22 24,28 28,34 32,40 35,45 38,42 41,38 45,35 50,30 55,25 60,20 66,15 72,10 78,8 84,6 93,5"/>
<polyline class="tg" points="-11,0 -8,-2 -4,1 0,-2 3,5 6,12 8,15 10,8 12,0 14,5 17,15 20,20 23,24 26,32 29,45 32,55 35,60 38,55 41,45 44,38 48,32 52,28 56,25 60,20 66,15 72,10 78,7 84,5 90,3 93,2"/></g>

<g id="P9" transform="translate(117 1093)"><use href="#ax"/><text class="lbl" x="-11" y="-21">P9</text>
<polyline class="nt" points="-11,0 -5,1 0,-1 3,3 5,6 7,0 9,-8 11,-10 13,-2 16,8 19,15 21,14 24,8 28,5 32,4 36,2 42,0 50,-2 58,-4 66,-5 74,-5 82,-6 93,-8"/>
<polyline class="nv" points="-11,0 -6,1 -2,-1 3,3 5,8 7,2 9,-6 11,-10 13,-2 16,10 19,18 22,20 25,10 28,0 31,-5 34,-2 38,6 42,10 46,14 50,17 55,20 60,18 65,16 70,15 76,12 82,10 88,7 93,5"/>
<polyline class="tg" points="-11,0 -8,-2 -4,1 0,-2 3,4 5,10 7,2 9,-8 11,-10 13,0 16,12 19,22 21,25 23,15 25,5 28,-2 32,-5 35,2 38,8 42,12 46,14 50,15 54,12 58,8 64,5 70,2 76,0 82,-1 88,-2 93,-3"/></g>

<g id="P10" transform="translate(1078 1093)"><use href="#ax"/><text class="lbl" x="-20" y="-21">P10</text>
<polyline class="nt" points="-11,0 -5,1 0,-1 3,-4 6,-6 9,-2 12,6 15,14 17,15 20,5 23,-2 26,-5 30,0 34,5 38,8 42,10 46,6 50,2 56,0 62,-2 68,-3 74,-4 80,-5 86,-6 93,-8"/>
<polyline class="nv" points="-11,0 -6,1 -2,-1 3,-4 6,-6 9,0 12,12 15,22 17,25 20,10 23,-5 26,-10 30,0 33,10 36,15 40,12 44,10 48,6 52,2 56,0 62,-2 68,-4 74,-5 80,-5 86,-4 93,-5"/>
<polyline class="tg" points="-11,0 -8,-2 -4,1 0,-2 3,-6 6,-10 9,-4 12,10 15,25 17,30 19,20 22,5 25,-5 28,0 31,8 34,15 37,25 40,30 43,26 46,18 50,12 54,5 58,0 63,2 68,5 73,6 78,4 84,2 89,1 93,0"/></g>

<g id="PO7" transform="translate(315 1131)"><use href="#ax"/><text class="lbl" x="-20" y="-21">PO7</text>
<polyline class="nt" points="-11,0 -5,1 0,-1 3,2 6,6 10,9 14,3 18,-3 22,-6 26,-7 30,-9 36,-9 42,-10 48,-11 55,-11 62,-10 70,-10 78,-10 86,-11 95,-12"/>
<polyline class="nv" points="-11,0 -6,1 -2,-1 3,1 7,3 11,4 15,4 19,8 23,10 27,12 31,14 35,16 39,18 43,20 46,21 50,20 54,18 58,14 62,10 66,6 70,2 75,0 80,-3 86,-6 90,-8 95,-9"/>
<polyline class="tg" points="-11,0 -8,-2 -4,1 0,-2 3,2 6,5 9,8 12,12 15,19 18,24 21,28 24,30 27,34 30,40 33,44 36,44 39,40 42,34 46,28 50,24 54,20 58,15 62,10 66,6 70,2 75,-2 80,-5 86,-7 90,-8 95,-9"/></g>

<g id="PO8" transform="translate(876 1131)"><use href="#ax"/><text class="lbl" x="-23" y="-21">PO8</text>
<polyline class="nt" points="-11,0 -5,1 0,-2 4,2 8,3 12,5 16,2 20,0 24,-2 28,-3 32,-4 38,-5 44,-5 52,-4 60,-5 68,-4 76,-5 84,-4 93,-5"/>
<polyline class="nv" points="-11,0 -6,1 -2,-1 3,2 7,4 10,5 14,8 18,12 22,16 26,18 30,22 34,24 38,25 42,26 46,28 50,30 54,28 58,22 62,16 66,10 70,6 74,4 78,2 84,0 93,-3"/>
<polyline class="tg" points="-11,0 -8,-2 -4,1 0,-3 3,2 6,-2 9,5 12,10 15,15 18,18 21,22 24,25 27,28 30,32 33,38 36,40 39,36 42,30 45,28 48,30 51,34 54,35 57,28 60,22 64,15 68,10 72,6 76,4 80,2 86,-2 93,-5"/></g>

<g id="O1" transform="translate(451 1195)"><use href="#ax"/><text class="lbl" x="-14" y="-20">O1</text>
<polyline class="nt" points="-11,0 -5,-1 0,-2 5,-3 10,-3 15,-4 20,-5 25,-5 30,-4 35,-5 40,-5 46,-4 52,-4 58,-3 66,-3 74,-2 82,-2 93,-1"/>
<polyline class="nv" points="-11,0 -6,-1 -2,-2 3,-3 7,-2 11,-4 15,-5 19,0 23,4 27,5 31,2 35,0 39,-3 43,-5 47,-6 51,-7 55,-8 60,-7 65,-5 70,-4 76,-3 82,-2 88,-1 93,0"/>
<polyline class="tg" points="-11,0 -8,-2 -4,1 0,-2 3,2 6,4 9,5 12,2 15,0 18,5 21,10 24,15 27,14 30,18 33,20 36,16 39,10 42,8 45,12 48,15 51,12 54,6 57,2 60,0 65,-2 70,-3 75,-2 80,-3 86,-1 93,0"/></g>

<g id="O2" transform="translate(745 1195)"><use href="#ax"/><text class="lbl" x="-13" y="-20">O2</text>
<polyline class="nt" points="-11,0 -5,-1 0,-2 5,-4 10,-5 15,-3 20,-3 25,-4 30,-5 35,-5 40,-5 46,-4 52,-4 60,-3 68,-3 76,-2 84,-2 93,-1"/>
<polyline class="nv" points="-11,0 -7,-4 -3,-8 0,-12 3,-10 6,-6 10,-2 14,0 18,3 22,5 26,4 30,2 34,-2 38,-4 42,-5 47,-7 52,-8 57,-7 62,-6 68,-5 74,-4 80,-3 86,-3 93,-2"/>
<polyline class="tg" points="-11,0 -8,-3 -4,-6 0,-2 3,2 6,4 9,5 12,3 15,0 18,4 21,8 24,14 28,16 32,15 35,18 38,20 41,15 44,10 47,8 50,12 53,15 56,12 60,4 64,0 69,-2 74,-3 80,-2 86,-1 93,0"/></g>

<g id="connectors">
<line class="arr" x1="703" y1="409" x2="667" y2="419" marker-end="url(#ah)"/>
<line class="arr" x1="642" y1="697" x2="618" y2="720" marker-end="url(#ah)"/>
<line class="arr" x1="402" y1="677" x2="379" y2="705" marker-end="url(#ah)"/>
<line class="arr" x1="1115" y1="668" x2="1092" y2="695" marker-end="url(#ah)"/>
<line class="arr" x1="647" y1="880" x2="628" y2="848" marker-end="url(#ah)"/>
<line class="arr" x1="687" y1="1057" x2="654" y2="1073" marker-end="url(#ah)"/>
</g>
<g id="annotations">
<text class="ann" x="708" y="415">FRN</text>
<text class="ann" x="671" y="684" text-anchor="middle">Novelty</text>
<text class="ann" x="671" y="706" text-anchor="middle">MMN</text>
<text class="ann" x="383" y="671">N1 sink</text>
<text class="ann" x="1126" y="637" text-anchor="middle">Temporal</text>
<text class="ann" x="1127" y="660" text-anchor="middle">N1 sink</text>
<text class="ann" x="637" y="901">NVS</text>
<text class="ann" x="695" y="1059">P3 source</text>
</g>

<g id="eog-scale">
<rect x="1038" y="90" width="6" height="32" fill="#000"/>
<text class="lbl" x="1039" y="84" text-anchor="middle" font-weight="bold">-</text>
<text class="lbl" x="1033" y="138" text-anchor="middle" font-weight="bold">+</text>
<text class="lbl" x="1031" y="112" text-anchor="end" font-size="17">10 µV</text>
</g>

<g id="csd-scale">
<rect x="231" y="1243" width="6" height="64" fill="#000"/>
<text class="sc" x="232" y="1238" text-anchor="middle" font-weight="bold">-</text>
<text class="sc" x="228" y="1324" text-anchor="middle" font-weight="bold">+</text>
<text class="sc" x="225" y="1285" text-anchor="end">0.2 µV/cm²</text>
<path d="M256 1277H362M267 1268V1285M290.5 1270V1284M314 1268V1285M337.5 1270V1284M361 1268V1285" stroke="#111" stroke-width="1.3" fill="none"/>
<text class="sc" x="267" y="1309" text-anchor="middle">0</text>
<text class="sc" x="313" y="1309" text-anchor="middle">500</text>
<text class="sc" x="360" y="1309" text-anchor="middle">1000</text>
<text class="sc" x="316" y="1338" text-anchor="middle">Latency [ms]</text>
</g>

<g id="legend">
<rect x="977" y="1210" width="172" height="113" fill="#fff" stroke="#222" stroke-width="2"/>
<line x1="988" y1="1238" x2="1032" y2="1238" class="nt" stroke-width="3.6"/>
<line x1="988" y1="1267" x2="1032" y2="1267" class="tg" stroke-width="3.6"/>
<line x1="988" y1="1294" x2="1032" y2="1294" class="nv" stroke-width="3.6"/>
<text class="leg" x="1037" y="1245" fill="#a9a9a9">Nontarget</text>
<text class="leg" x="1037" y="1274" fill="#333">Target</text>
<text class="leg" x="1037" y="1302" fill="#333">Novel</text>
</g>
</svg>
